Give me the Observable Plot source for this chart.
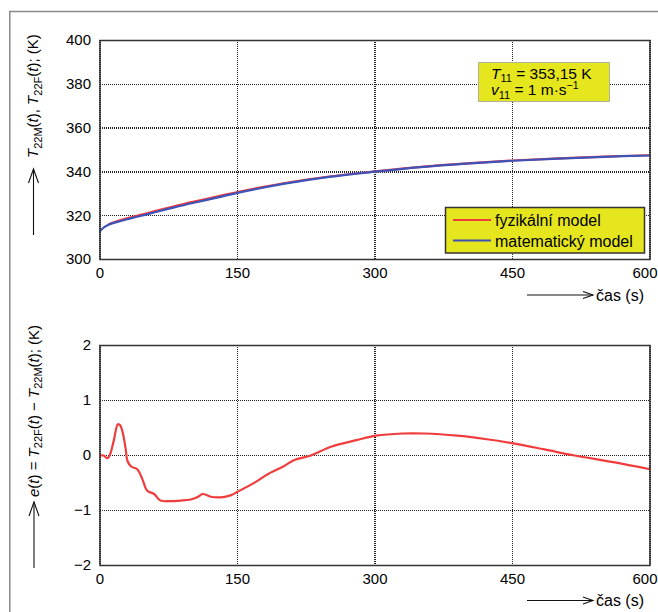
<!DOCTYPE html>
<html>
<head>
<meta charset="utf-8">
<script src="https://cdn.jsdelivr.net/npm/d3@7"></script>
<script src="https://cdn.jsdelivr.net/npm/@observablehq/plot@0.6"></script>
<style>
  body { margin: 0; background: white; }
  #wrap { position: relative; width: 658px; height: 612px; overflow: hidden; font-family: "Liberation Sans", Arial, sans-serif; }
  #wrap > svg { position: absolute; left: 0; }
</style>
</head>
<body>
<div id="wrap"></div>
<script>
// ---- data ----
const xTicks = [0, 150, 300, 450, 600];
const topTicks = [300, 320, 340, 360, 380, 400];
const botTicks = [-2, -1, 0, 1, 2];

// matematický model (blue)
const timeM = [0, 5, 10, 20, 30, 40, 50, 60, 80, 100, 125, 150, 200, 250, 300, 350, 400, 450, 500, 550, 600];
const tempM = [313.0, 314.9, 316.0, 317.3, 318.4, 319.5, 320.5, 321.6, 323.7, 325.7, 328.0, 330.4, 334.5, 337.7, 340.1, 342.2, 343.8, 345.1, 346.1, 346.9, 347.5];
// fyzikální model (red)
const timeF = [10, 20, 30, 40, 50, 60, 80, 100, 125, 150, 200, 250, 300, 350, 400, 450, 500, 550, 600];
const tempF = [316.2, 317.7, 318.9, 320.0, 321.0, 322.1, 324.2, 326.2, 328.5, 330.8, 334.8, 337.9, 340.2, 342.3, 343.9, 345.2, 346.2, 347.0, 347.6];

// error e(t)
const timeE = [0, 4, 8, 11, 15, 19.5, 22, 25, 28, 30, 34, 40.6, 46, 51.5, 59, 66, 75, 88, 99, 106, 112, 121, 132, 143, 150, 170, 183, 200, 212, 230, 252, 280, 301, 330, 354, 390, 420, 451, 485, 518, 560, 600];
const errE = [0, 0, -0.05, 0.02, 0.27, 0.57, 0.55, 0.4, 0.12, -0.1, -0.2, -0.25, -0.42, -0.64, -0.70, -0.82, -0.83, -0.82, -0.80, -0.76, -0.70, -0.75, -0.76, -0.72, -0.66, -0.48, -0.34, -0.2, -0.08, 0.0, 0.16, 0.28, 0.36, 0.40, 0.40, 0.36, 0.30, 0.22, 0.11, 0.0, -0.12, -0.25];

const RED = "#f03c3c";
const BLUE = "#3f52b8";
const YELLOW = "#e6e61e";

const dataM = timeM.map((t, i) => ({t, v: tempM[i]}));
const dataF = timeF.map((t, i) => ({t, v: tempF[i]}));
const dataE = timeE.map((t, i) => ({t, v: errE[i]}));

const fmt = d => d < 0 ? "\u2212" + (-d) : String(d);
const FONT = '"Liberation Sans", Arial, sans-serif';
const plotStyle = {fontFamily: FONT, fontSize: "15px", color: "black", background: "transparent", overflow: "visible"};
const gridStyle = () => ({stroke: "#222", strokeOpacity: 1, strokeDasharray: "1,1", strokeWidth: 1.5, shapeRendering: "crispEdges"});
const xMain = xTicks.slice(0, -1);
const xLast = xTicks.slice(-1);

function xAxes() {
  return [
    Plot.axisX(xMain, {tickSize: 0, tickPadding: 8, label: null, tickFormat: fmt, fontSize: 15}),
    Plot.axisX(xLast, {tickSize: 0, tickPadding: 8, label: null, tickFormat: fmt, fontSize: 15, dx: -5})
  ];
}

const topPlot = Plot.plot({
  width: 658, height: 300,
  marginLeft: 99.5, marginRight: 8.5, marginTop: 40, marginBottom: 41,
  x: {domain: [0, 600]},
  y: {domain: [300, 400]},
  style: plotStyle,
  marks: [
    Plot.ruleX(xTicks, gridStyle()),
    Plot.ruleY(topTicks, {...gridStyle(), x1: 0, x2: 600}),
    ...xAxes(),
    Plot.axisY(topTicks, {tickSize: 0, tickPadding: 9, label: null, tickFormat: fmt, fontSize: 15}),
    Plot.line(dataF, {x: "t", y: "v", stroke: RED, strokeWidth: 2.2, curve: "catmull-rom"}),
    Plot.line(dataM, {x: "t", y: "v", stroke: BLUE, strokeWidth: 2.2, curve: "catmull-rom"}),
    Plot.frame({stroke: "#333", strokeWidth: 1.5})
  ]
});
topPlot.style.top = "0px";

const botPlot = Plot.plot({
  width: 658, height: 312,
  marginLeft: 99.5, marginRight: 8.5, marginTop: 45, marginBottom: 47,
  x: {domain: [0, 600]},
  y: {domain: [-2, 2]},
  style: plotStyle,
  marks: [
    Plot.ruleX(xTicks, gridStyle()),
    Plot.ruleY(botTicks, {...gridStyle(), x1: 0, x2: 600}),
    ...xAxes(),
    Plot.axisY(botTicks, {tickSize: 0, tickPadding: 9, label: null, tickFormat: fmt, fontSize: 15}),
    Plot.line(dataE, {x: "t", y: "v", stroke: RED, strokeWidth: 2.2, curve: "catmull-rom"}),
    Plot.frame({stroke: "#333", strokeWidth: 1.5})
  ]
});
botPlot.style.top = "300px";

const wrap = document.getElementById("wrap");
wrap.appendChild(topPlot);
wrap.appendChild(botPlot);

// ---- overlay: frame, labels, arrows, annotation, legend ----
const ov = d3.select(wrap).append("svg")
  .attr("width", 658).attr("height", 612)
  .style("top", "0px")
  .style("font-family", FONT)
  .style("font-size", "16px");

ov.append("path").attr("d", "M9.75,612 V11.5 H658").attr("fill", "none").attr("stroke", "#8a8a8a").attr("stroke-width", 1.5);

function rich(sel, parts) {
  let shift = 0;
  parts.forEach(([txt, kind]) => {
    const ts = sel.append("tspan").text(txt);
    let target = 0;
    if (kind === "sub") { target = 3.5; ts.attr("font-size", "11px"); }
    if (kind === "sup") { target = -6; ts.attr("font-size", "10.5px"); }
    if (kind === "i") ts.attr("font-style", "italic");
    if (target !== shift) { ts.attr("dy", target - shift); shift = target; }
  });
}

function vArrow(x, y0, y1) {
  ov.append("line").attr("x1", x).attr("x2", x).attr("y1", y0).attr("y2", y1).attr("stroke", "#111").attr("stroke-width", 1.1);
  ov.append("path").attr("d", `M${x - 5},${y1 + 14} L${x},${y1} L${x + 5},${y1 + 14}`).attr("fill", "none").attr("stroke", "#111").attr("stroke-width", 1.1);
}
function hArrow(y, x0, x1) {
  ov.append("line").attr("x1", x0).attr("x2", x1).attr("y1", y).attr("y2", y).attr("stroke", "#111").attr("stroke-width", 1.1);
  ov.append("path").attr("d", `M${x1 - 10},${y - 3.5} L${x1},${y} L${x1 - 10},${y + 3.5}`).attr("fill", "none").attr("stroke", "#111").attr("stroke-width", 1.1);
}

// top y label
vArrow(33.5, 235, 169);
rich(ov.append("text").attr("font-size", "15px").attr("transform", "translate(38,158) rotate(-90)"),
  [["T", "i"], ["22M", "sub"], ["(", ""], ["t", "i"], ["), ", ""], ["T", "i"], ["22F", "sub"], ["(", ""], ["t", "i"], ["); (K)", ""]]);

// bottom y label
vArrow(34, 568, 502);
rich(ov.append("text").attr("font-size", "15px").attr("transform", "translate(38.5,497) rotate(-90)"),
  [["e", "i"], ["(", ""], ["t", "i"], [") = ", ""], ["T", "i"], ["22F", "sub"], ["(", ""], ["t", "i"], [") \u2212 ", ""], ["T", "i"], ["22M", "sub"], ["(", ""], ["t", "i"], ["); (K)", ""]]);

// x labels
hArrow(295, 527, 593);
ov.append("text").attr("x", 596).attr("y", 300.5).text("čas (s)");
hArrow(600.5, 527, 593);
ov.append("text").attr("x", 596).attr("y", 606).text("čas (s)");

// annotation box
ov.append("rect").attr("x", 478.5).attr("y", 62.5).attr("width", 131).attr("height", 39).attr("fill", YELLOW).attr("stroke", "#b0b0a0").attr("stroke-width", 1);
rich(ov.append("text").attr("x", 491).attr("y", 78.5).attr("font-size", "15.5px"), [["T", "i"], ["11", "sub"], [" = 353,15 K", ""]]);
rich(ov.append("text").attr("x", 491).attr("y", 95).attr("font-size", "15.5px"), [["v", "i"], ["11", "sub"], [" = 1 m·s", ""], ["\u22121", "sup"]]);

// legend
ov.append("rect").attr("x", 445.5).attr("y", 207.5).attr("width", 199).attr("height", 45.5).attr("fill", YELLOW).attr("stroke", "#333").attr("stroke-width", 1.5);
ov.append("line").attr("x1", 453).attr("x2", 491).attr("y1", 220).attr("y2", 220).attr("stroke", RED).attr("stroke-width", 2);
ov.append("line").attr("x1", 453).attr("x2", 491).attr("y1", 240.5).attr("y2", 240.5).attr("stroke", BLUE).attr("stroke-width", 2);
ov.append("text").attr("x", 495).attr("y", 226).text("fyzikální model");
ov.append("text").attr("x", 495).attr("y", 246.5).text("matematický model");
</script>
</body>
</html>
